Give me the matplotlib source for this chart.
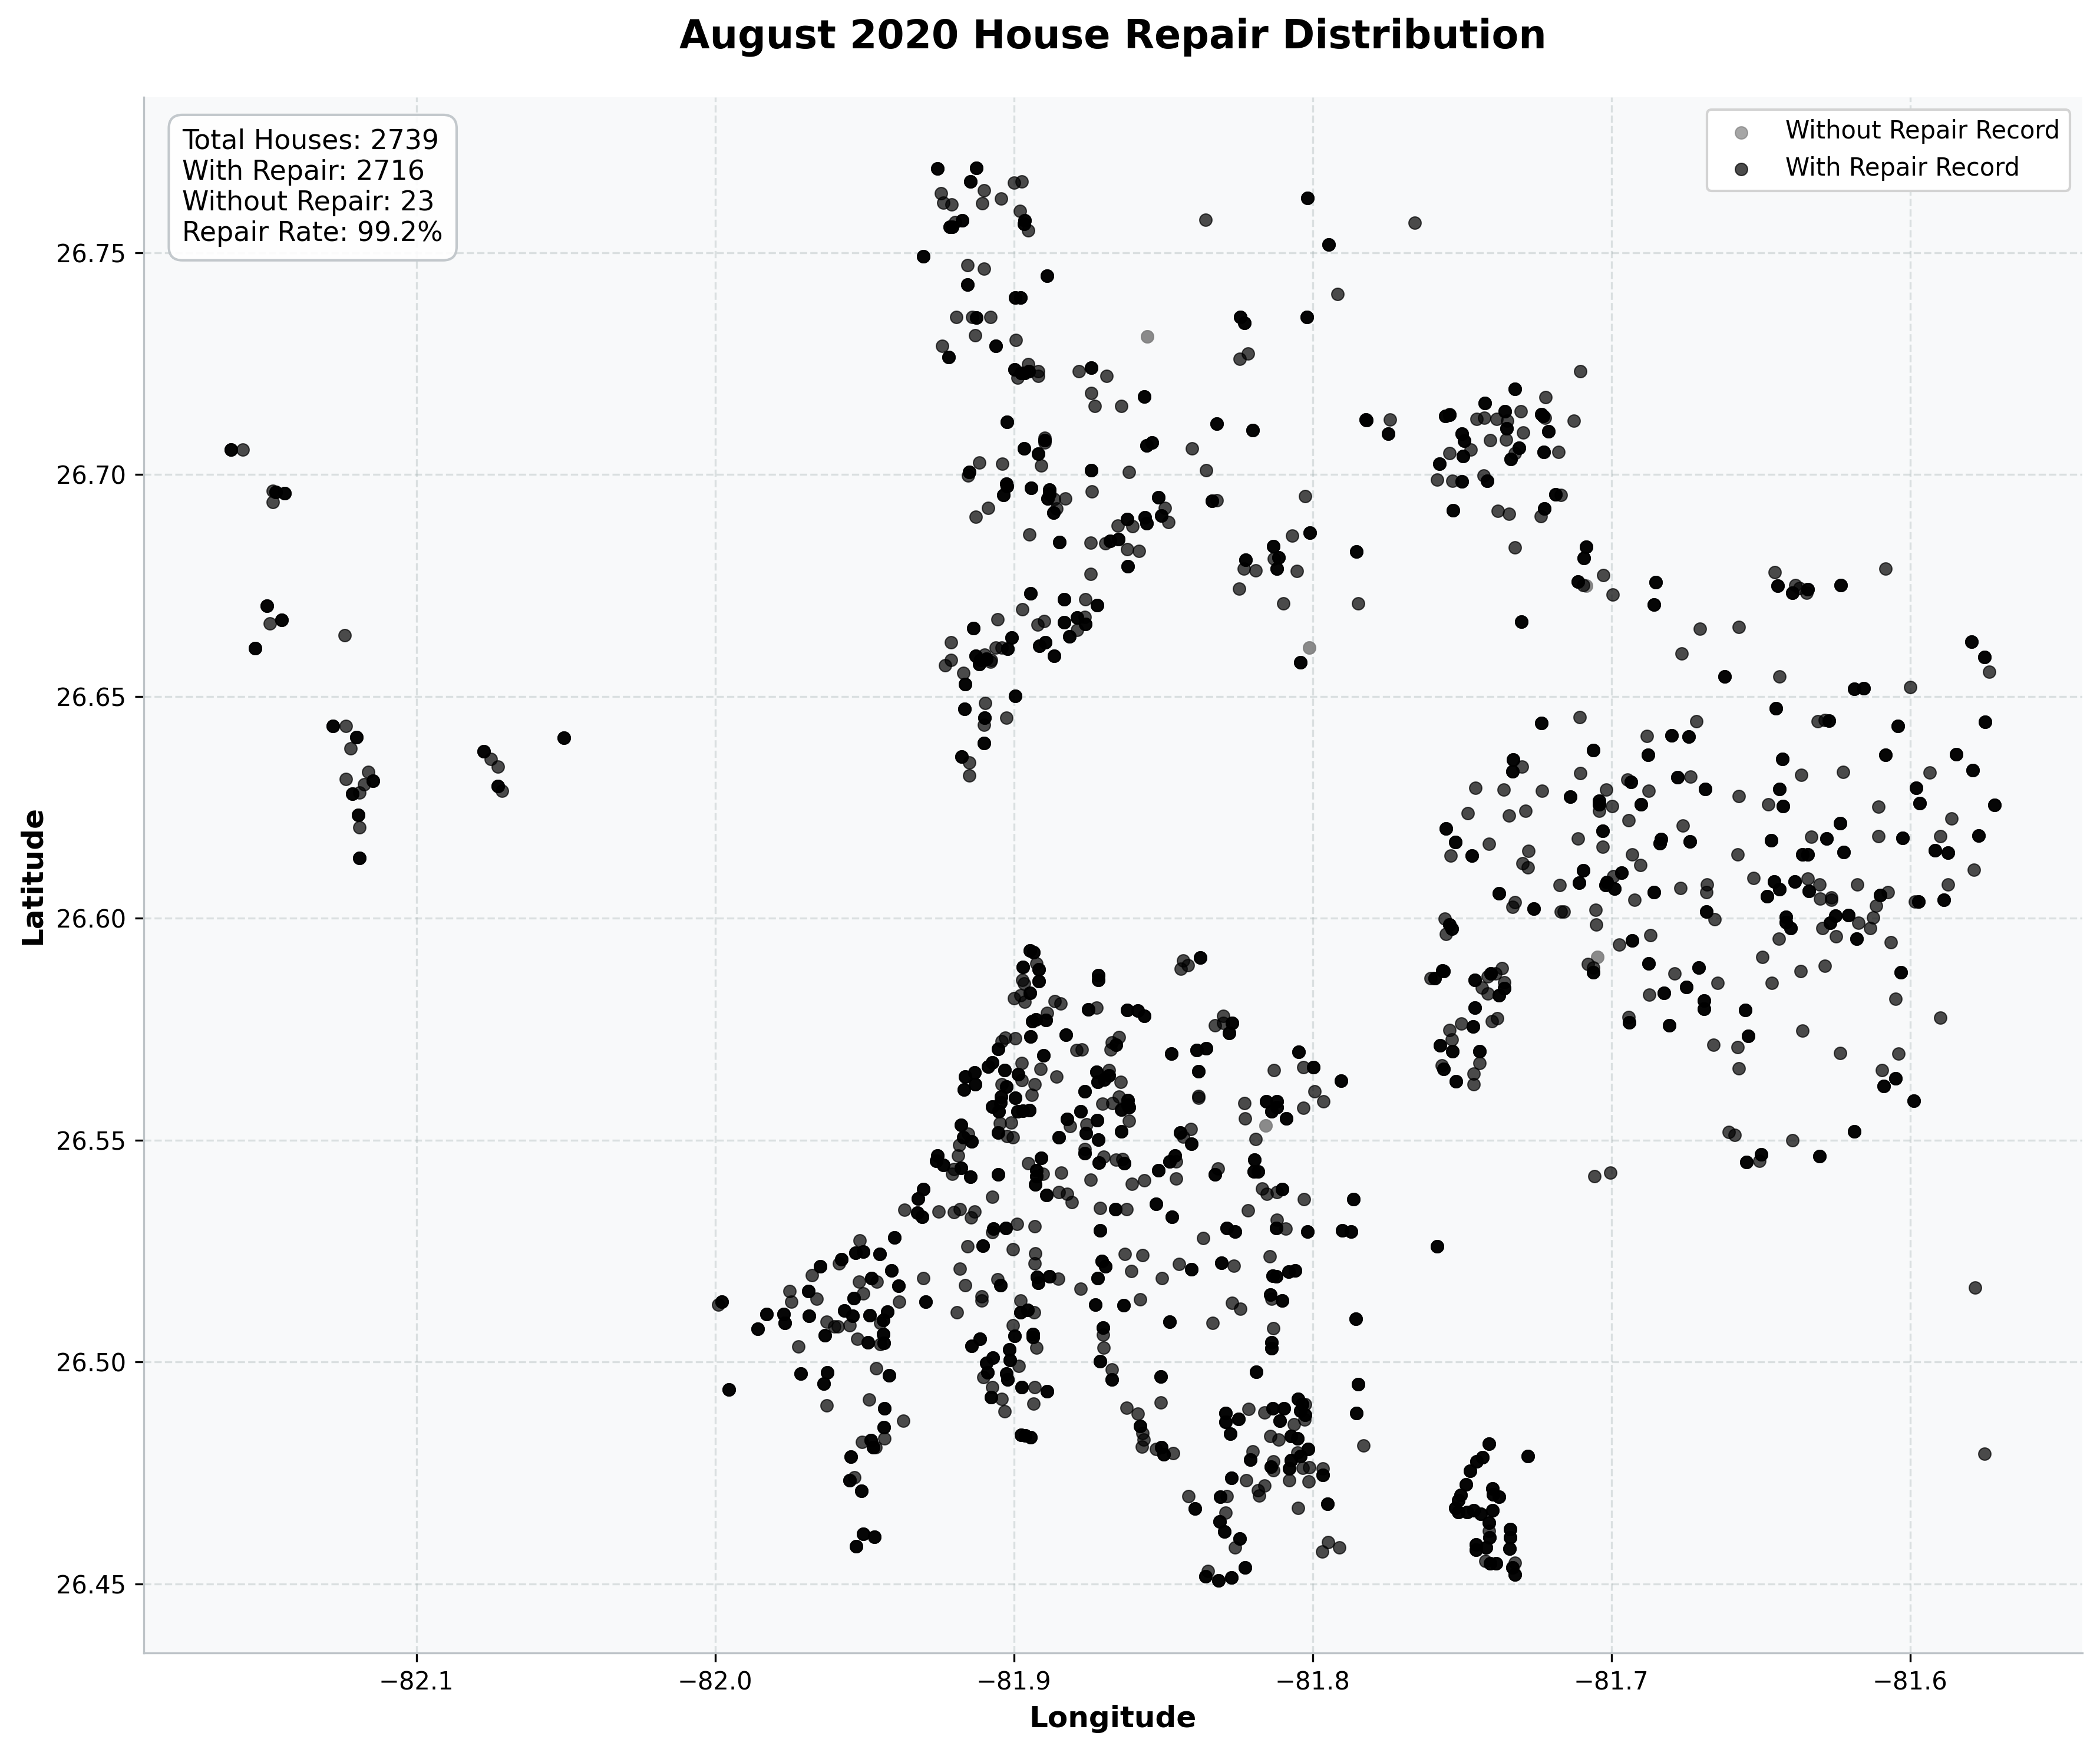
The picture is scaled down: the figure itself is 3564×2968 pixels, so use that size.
import numpy as np
import matplotlib
matplotlib.use('Agg')
import matplotlib.pyplot as plt

# houses without a repair record
without_repair = [(-81.8553,26.7311),(-81.8011,26.661),(-81.7047,26.5913),(-81.8158,26.5533),(-81.7085,26.6749)]

# houses with one repair record, read per area as (lon, lat)
west_one = [(-82.158,26.7056),(-82.148,26.6963),(-82.148,26.6937),(-82.149,26.6664),(-82.124,26.6637),(-82.1235,26.6433),
    (-82.122,26.6383),(-82.116,26.633),(-82.1236,26.6313),(-82.1174,26.6302),(-82.119,26.6283),(-82.119,26.6205),
    (-82.075,26.6359),(-82.0727,26.6342),(-82.0713,26.6287)]
west_many = [(-82.162,26.7056),(-82.147,26.696),(-82.144,26.6958),(-82.150,26.6704),(-82.145,26.6672),(-82.154,26.6608),
    (-82.128,26.6433),(-82.120,26.6408),(-82.1146,26.6309),(-82.1215,26.628),(-82.1195,26.6233),(-82.119,26.6136),
    (-82.0774,26.6376),(-82.0726,26.6297),(-82.0507,26.6407)]

north_one = [(-81.9,26.7658),(-81.8973,26.766),(-81.910,26.764),(-81.9243,26.7633),(-81.9236,26.7612),(-81.9209,26.7608),
    (-81.9106,26.7611),(-81.9042,26.7621),(-81.8979,26.7594),(-81.8952,26.755),(-81.9197,26.7568),(-81.9155,26.7472),
    (-81.91,26.7464),(-81.9192,26.7355),(-81.9139,26.7355),(-81.9079,26.7355),(-81.9129,26.7314),(-81.8993,26.7303),
    (-81.924,26.729),(-81.8953,26.7249),(-81.8918,26.7233),(-81.8918,26.7222),(-81.8987,26.7218),(-81.8782,26.7232),
    (-81.8689,26.7222),(-81.8742,26.7183),(-81.873,26.7154),(-81.864,26.7154),(-81.8358,26.7574),(-81.7917,26.7407),
    (-81.8216,26.7272),(-81.8245,26.726),(-81.8896,26.7083),(-81.8896,26.7072),(-81.8403,26.7059),(-81.9115,26.7026),
    (-81.9038,26.7024),(-81.8908,26.702),(-81.9153,26.6997),(-81.8615,26.7006),(-81.8357,26.7009),(-81.8865,26.6944),
    (-81.8827,26.6946),(-81.874,26.6962),(-81.8858,26.6923),(-81.9086,26.6924),(-81.9127,26.6904),(-81.8494,26.6925),
    (-81.8483,26.6893),(-81.8322,26.6941),(-81.8026,26.6951),(-81.8652,26.6884),(-81.8604,26.6883),(-81.8948,26.6864),
    (-81.8744,26.6846),(-81.8694,26.6845),(-81.8621,26.6831),(-81.8581,26.6827),(-81.8068,26.6862)]
north_many = [(-81.9255,26.7689),(-81.9125,26.769),(-81.9145,26.766),(-81.8964,26.7572),(-81.8966,26.7565),(-81.9172,26.7573),
    (-81.9214,26.7558),(-81.9207,26.7558),(-81.9303,26.7491),(-81.9155,26.7428),(-81.8888,26.7447),(-81.8996,26.7399),
    (-81.8978,26.7399),(-81.9125,26.7353),(-81.906,26.7289),(-81.9219,26.7264),(-81.8998,26.7237),(-81.8976,26.7228),
    (-81.8963,26.7228),(-81.8951,26.7233),(-81.8742,26.724),(-81.8563,26.7175),(-81.8017,26.7623),(-81.7946,26.7518),
    (-81.8242,26.7355),(-81.8229,26.7342),(-81.8019,26.7354),(-81.9024,26.7118),(-81.8321,26.7114),(-81.82,26.7099),
    (-81.7822,26.7123),(-81.8896,26.7077),(-81.8537,26.7072),(-81.8556,26.7065),(-81.8965,26.7059),(-81.8918,26.7046),
    (-81.9149,26.7006),(-81.8742,26.701),(-81.9026,26.6979),(-81.9023,26.6973),(-81.9034,26.6954),(-81.8942,26.6969),
    (-81.8882,26.6965),(-81.8882,26.6956),(-81.8887,26.6945),(-81.8868,26.6914),(-81.8516,26.6948),(-81.8506,26.6907),
    (-81.8336,26.694),(-81.8621,26.6899),(-81.8561,26.6903),(-81.8555,26.689),(-81.8847,26.6847),(-81.8678,26.685),
    (-81.865,26.6854),(-81.801,26.6868),(-81.8131,26.6838),(-81.7853,26.6826)]

north_low_one = [(-81.8744,26.6776),(-81.8129,26.681),(-81.823,26.6788),(-81.819,26.6783),(-81.8052,26.6782),(-81.8246,26.6742),
    (-81.8098,26.6709),(-81.7847,26.6709),(-81.8761,26.6718),(-81.8971,26.6696),(-81.8898,26.6669),(-81.8921,26.6662),
    (-81.8763,26.6679),(-81.8788,26.665),(-81.9054,26.6674),(-81.921,26.6621),(-81.9061,26.6609),(-81.9041,26.6609),
    (-81.9099,26.6594),(-81.9076,26.6582),(-81.9078,26.6578),(-81.921,26.6582),(-81.923,26.657),(-81.917,26.6553),
    (-81.9096,26.6485),(-81.91,26.6435),(-81.9026,26.6451),(-81.9149,26.6351),(-81.9149,26.6322)]
north_low_many = [(-81.8618,26.6793),(-81.8225,26.6808),(-81.8114,26.6813),(-81.812,26.6788),(-81.804,26.6577),(-81.8944,26.6732),
    (-81.8831,26.6719),(-81.8722,26.6705),(-81.8831,26.6667),(-81.8788,26.6677),(-81.876,26.6663),(-81.8814,26.6635),
    (-81.9135,26.6653),(-81.9007,26.6632),(-81.8894,26.6622),(-81.8914,26.6613),(-81.8866,26.6591),(-81.9022,26.6607),
    (-81.9127,26.6591),(-81.9112,26.6582),(-81.9092,26.6585),(-81.9115,26.6573),(-81.9164,26.6527),(-81.8995,26.6501),
    (-81.9166,26.6472),(-81.9098,26.6451),(-81.91,26.6394),(-81.9174,26.6364)]

ring_one = [(-81.7658,26.7567),(-81.7104,26.7233),(-81.722,26.7174),(-81.7542,26.7136),(-81.7452,26.7125),(-81.7425,26.7127),
    (-81.7384,26.7125),(-81.7349,26.7121),(-81.7303,26.7142),(-81.7222,26.7128),(-81.7125,26.7121),(-81.7295,26.7094),
    (-81.7406,26.7077),(-81.7353,26.7078),(-81.7472,26.7056),(-81.7323,26.7048),(-81.7178,26.7051),(-81.7542,26.7048),
    (-81.7584,26.6988),(-81.7533,26.6986),(-81.7427,26.6997),(-81.7169,26.6954),(-81.738,26.6918),(-81.7343,26.6911),
    (-81.7236,26.6906),(-81.7323,26.6835),(-81.7742,26.7123),(-81.7028,26.6773),(-81.7094,26.6751),(-81.6995,26.6729)]
ring_many = [(-81.7323,26.7193),(-81.7423,26.7161),(-81.7555,26.7132),(-81.7542,26.7134),(-81.7357,26.7142),(-81.7234,26.7136),
    (-81.7228,26.7132),(-81.7211,26.7097),(-81.7351,26.7104),(-81.7501,26.7092),(-81.7493,26.7076),(-81.731,26.706),
    (-81.7226,26.7051),(-81.7496,26.7041),(-81.7337,26.7035),(-81.7576,26.7024),(-81.7501,26.6984),(-81.7415,26.6986),
    (-81.7188,26.6955),(-81.753,26.6919),(-81.7224,26.6923),(-81.7821,26.7122),(-81.7748,26.7092),(-81.7084,26.6837),
    (-81.7092,26.6811),(-81.7112,26.6758),(-81.6851,26.6757),(-81.6857,26.6706)]

east_one = [(-81.6703,26.6652),(-81.6574,26.6656),(-81.6766,26.6596),(-81.6437,26.6545),(-81.7106,26.6453),(-81.6716,26.6443),
    (-81.6882,26.6411),(-81.7299,26.6342),(-81.7105,26.6327),(-81.6736,26.6319),(-81.7456,26.6294),(-81.7361,26.6289),
    (-81.7233,26.6287),(-81.7018,26.6289),(-81.6947,26.6312),(-81.6876,26.6287),(-81.6574,26.6275),(-81.6476,26.6256),
    (-81.7041,26.6242),(-81.6998,26.6252),(-81.748,26.6236),(-81.7342,26.6231),(-81.7288,26.6242),(-81.6943,26.622),
    (-81.6761,26.6209),(-81.7113,26.618),(-81.741,26.6168),(-81.7029,26.6161),(-81.7538,26.6141),(-81.7278,26.6152),
    (-81.6931,26.6144),(-81.6577,26.6144),(-81.6904,26.612),(-81.7298,26.6124),(-81.7279,26.6114),(-81.6993,26.6094),
    (-81.6524,26.609),(-81.668,26.6076),(-81.7173,26.6075),(-81.6768,26.6068),(-81.6683,26.6058),(-81.6923,26.6041),
    (-81.7324,26.6036),(-81.7332,26.6025),(-81.717,26.6014),(-81.7159,26.6014),(-81.7053,26.6019),(-81.6655,26.5998),
    (-81.7051,26.5985),(-81.7557,26.5999),(-81.7553,26.5964),(-81.687,26.5961),(-81.6975,26.594),(-81.6439,26.5954),
    (-81.6494,26.5913),(-81.7078,26.5896),(-81.7061,26.5888),(-81.6789,26.5875),(-81.6644,26.5854),(-81.6464,26.5854),
    (-81.6874,26.5828),(-81.6943,26.5777),(-81.6659,26.5715),(-81.6578,26.5709),(-81.6573,26.5662),(-81.6607,26.5518),
    (-81.6587,26.5512),(-81.6505,26.5453),(-81.7056,26.5419),(-81.7004,26.5427)]
east_many = [(-81.7302,26.6668),(-81.6622,26.6545),(-81.645,26.6473),(-81.7234,26.6439),(-81.6799,26.6412),(-81.6742,26.6409),
    (-81.6878,26.6368),(-81.706,26.6378),(-81.7329,26.6357),(-81.7331,26.6331),(-81.6779,26.6318),(-81.6428,26.6359),
    (-81.7138,26.6274),(-81.6935,26.6307),(-81.6686,26.6291),(-81.6438,26.6291),(-81.6426,26.6253),(-81.7041,26.6264),
    (-81.7041,26.6256),(-81.6902,26.6257),(-81.7553,26.6202),(-81.703,26.6197),(-81.6835,26.6178),(-81.6838,26.6169),
    (-81.6738,26.6173),(-81.6466,26.6176),(-81.7522,26.6171),(-81.7467,26.6141),(-81.7094,26.6107),(-81.6966,26.6102),
    (-81.6456,26.6083),(-81.7109,26.608),(-81.7016,26.6081),(-81.702,26.6075),(-81.699,26.6066),(-81.6858,26.6059),
    (-81.7377,26.6056),(-81.6437,26.6065),(-81.648,26.6049),(-81.7261,26.6021),(-81.6683,26.6015),(-81.6416,26.6003),
    (-81.6416,26.5991),(-81.7543,26.5986),(-81.7535,26.5976),(-81.6931,26.595),(-81.7061,26.5878),(-81.6876,26.5898),
    (-81.6708,26.5888),(-81.675,26.5845),(-81.6824,26.5831),(-81.6691,26.5814),(-81.6691,26.5795),(-81.6553,26.5793),
    (-81.6941,26.5765),(-81.6807,26.5758),(-81.6543,26.5735),(-81.6498,26.5467),(-81.6549,26.545)]

mid_gap_one = [(-81.7605,26.5864),(-81.7413,26.5868),(-81.7388,26.5875),(-81.7367,26.5887),(-81.7433,26.5844),(-81.7413,26.583),
    (-81.7359,26.5855),(-81.7503,26.5762),(-81.7382,26.5774),(-81.7401,26.5768),(-81.7542,26.5748),(-81.7535,26.5726),
    (-81.7441,26.5673),(-81.7568,26.5668),(-81.7462,26.5649),(-81.7462,26.5626)]
mid_gap_many = [(-81.7562,26.5881),(-81.7592,26.5864),(-81.7458,26.5861),(-81.7404,26.5875),(-81.7376,26.5826),(-81.7359,26.5842),
    (-81.7458,26.5798),(-81.7463,26.5756),(-81.7574,26.5713),(-81.7533,26.57),(-81.7441,26.57),(-81.7561,26.566),
    (-81.752,26.5632),(-81.7566,26.5882),(-81.7584,26.5261)]

far_east_one = [(-81.6454,26.6779),(-81.6385,26.6751),(-81.6371,26.6744),(-81.6346,26.6733),(-81.6082,26.6787),(-81.5735,26.6555),
    (-81.5999,26.652),(-81.6309,26.6443),(-81.6285,26.6446),(-81.6365,26.6323),(-81.6225,26.633),(-81.5934,26.6328),
    (-81.6107,26.6251),(-81.5861,26.6224),(-81.6332,26.6183),(-81.6107,26.6185),(-81.59,26.6184),(-81.5786,26.6109),
    (-81.6343,26.6089),(-81.6303,26.6076),(-81.6178,26.6076),(-81.6302,26.6044),(-81.6265,26.6046),(-81.6265,26.6041),
    (-81.6074,26.6059),(-81.6115,26.6028),(-81.5873,26.6076),(-81.5984,26.6037),(-81.6294,26.5977),(-81.6174,26.599),
    (-81.6125,26.6001),(-81.6134,26.5978),(-81.6249,26.5959),(-81.6064,26.5945),(-81.6285,26.5893),(-81.6367,26.5881),
    (-81.605,26.5818),(-81.5899,26.5776),(-81.636,26.5747),(-81.6234,26.5696),(-81.604,26.5695),(-81.6094,26.5657),
    (-81.6395,26.55),(-81.5782,26.5168),(-81.5752,26.4793)]
far_east_many = [(-81.6444,26.6749),(-81.6394,26.6733),(-81.6343,26.6741),(-81.6232,26.6751),(-81.5794,26.6623),(-81.5751,26.6589),
    (-81.6187,26.6516),(-81.6156,26.6518),(-81.6272,26.6445),(-81.6042,26.6433),(-81.5749,26.6442),(-81.6082,26.6368),
    (-81.5847,26.6369),(-81.579,26.6333),(-81.5981,26.6293),(-81.5968,26.6259),(-81.5717,26.6255),(-81.6235,26.6214),
    (-81.5772,26.6186),(-81.6279,26.6179),(-81.6025,26.6181),(-81.5917,26.6153),(-81.5873,26.6148),(-81.636,26.6144),
    (-81.6343,26.6143),(-81.6222,26.6149),(-81.6387,26.6083),(-81.634,26.6061),(-81.6101,26.6052),(-81.5887,26.6041),
    (-81.5972,26.6037),(-81.64,26.5978),(-81.6251,26.6005),(-81.6206,26.6007),(-81.6269,26.5989),(-81.618,26.5953),
    (-81.6032,26.5878),(-81.6049,26.5639),(-81.6089,26.5622),(-81.5989,26.5588),(-81.6188,26.5519),(-81.6303,26.5464)]

south_one = [(-81.8925,26.5898),(-81.8972,26.586),(-81.8965,26.5853),(-81.8977,26.5826),(-81.8999,26.5819),(-81.8964,26.5812),
    (-81.8433,26.5904),(-81.8441,26.5886),(-81.8417,26.5894),(-81.8863,26.5813),(-81.8844,26.5807),(-81.8724,26.5798),
    (-81.8889,26.5786),(-81.83,26.5779),(-81.83,26.5764),(-81.8326,26.5758),(-81.8996,26.5729),(-81.9029,26.573),
    (-81.904,26.5723),(-81.8649,26.5732),(-81.8673,26.572),(-81.8676,26.5704),(-81.879,26.5703),(-81.8772,26.5704),
    (-81.8974,26.5674),(-81.8911,26.566),(-81.8129,26.5657),(-81.8973,26.5635),(-81.8858,26.5643),(-81.8681,26.5658),
    (-81.8642,26.5631),(-81.893,26.5625),(-81.904,26.5626),(-81.894,26.5602),(-81.8649,26.5597),(-81.8703,26.5582),
    (-81.8671,26.5583),(-81.8383,26.5599),(-81.8383,26.5595),(-81.8228,26.5583),(-81.8227,26.5548),(-81.819,26.5502),
    (-81.8813,26.5531),(-81.8757,26.5535),(-81.8614,26.5543),(-81.9047,26.5538),(-81.901,26.5539),(-81.9153,26.5514),
    (-81.9023,26.5509),(-81.9004,26.5506),(-81.8407,26.5524),(-81.8433,26.5508),(-81.9183,26.5489),(-81.9187,26.5465),
    (-81.8762,26.548),(-81.92,26.5434),(-81.9206,26.5424),(-81.8952,26.5447),(-81.8903,26.5424),(-81.8842,26.5426),
    (-81.8744,26.5411),(-81.8699,26.5462),(-81.8658,26.5455),(-81.8636,26.5457),(-81.8605,26.5401),(-81.8563,26.5409),
    (-81.8458,26.5452),(-81.8458,26.5413),(-81.8317,26.5435),(-81.817,26.5391),(-81.8154,26.5378),(-81.8119,26.5383),
    (-81.8216,26.5342),(-81.9366,26.5343),(-81.9251,26.5339),(-81.92,26.5338),(-81.9181,26.5344),(-81.9131,26.5339),
    (-81.9144,26.5325),(-81.9073,26.5372),(-81.8849,26.5382),(-81.8822,26.5378),(-81.8806,26.536),(-81.8712,26.5347),
    (-81.8622,26.5344),(-81.8119,26.532),(-81.8366,26.5279),(-81.9073,26.5292),(-81.8989,26.5311),(-81.8931,26.5305),
    (-81.9155,26.5261),(-81.9004,26.5254),(-81.8928,26.5244),(-81.893,26.5222),(-81.8628,26.5243),(-81.8569,26.5241),
    (-81.8607,26.5204),(-81.8447,26.5221),(-81.8263,26.5217),(-81.8144,26.5238),(-81.918,26.521),(-81.9303,26.5188),
    (-81.8504,26.5189),(-81.8031,26.5664),(-81.7993,26.5609),(-81.7965,26.5587),(-81.8031,26.5573),(-81.803,26.5367),
    (-81.809,26.53)]
south_many = [(-81.8947,26.5927),(-81.8935,26.5923),(-81.8917,26.5884),(-81.8969,26.589),(-81.8917,26.5858),(-81.8947,26.5831),
    (-81.8718,26.5871),(-81.8718,26.586),(-81.8376,26.5911),(-81.875,26.5794),(-81.862,26.5793),(-81.8585,26.5792),
    (-81.8564,26.578),(-81.8938,26.5767),(-81.8926,26.5771),(-81.8893,26.577),(-81.827,26.5764),(-81.828,26.5741),
    (-81.8825,26.5737),(-81.8945,26.5733),(-81.8659,26.5715),(-81.8388,26.5703),(-81.8357,26.5706),(-81.8472,26.5695),
    (-81.9052,26.5705),(-81.89,26.5691),(-81.9073,26.5675),(-81.9087,26.5666),(-81.903,26.5658),(-81.8382,26.5655),
    (-81.9132,26.5652),(-81.9163,26.5643),(-81.9129,26.5625),(-81.9168,26.5614),(-81.8985,26.5648),(-81.8724,26.5654),
    (-81.8682,26.5646),(-81.8719,26.5631),(-81.8697,26.5636),(-81.9026,26.562),(-81.8763,26.5609),(-81.9043,26.5597),
    (-81.8996,26.5595),(-81.8619,26.559),(-81.8619,26.5579),(-81.864,26.5569),(-81.8614,26.5574),(-81.9073,26.5575),
    (-81.905,26.5565),(-81.9045,26.5584),(-81.8988,26.5565),(-81.897,26.5566),(-81.8948,26.5567),(-81.8777,26.5564),
    (-81.8156,26.5587),(-81.8119,26.5587),(-81.8119,26.5574),(-81.8137,26.5564),(-81.8088,26.5549),(-81.8822,26.5547),
    (-81.8721,26.5545),(-81.9176,26.5534),(-81.917,26.5506),(-81.9142,26.5497),(-81.9052,26.5517),(-81.8758,26.5515),
    (-81.8641,26.5519),(-81.885,26.5506),(-81.8717,26.5501),(-81.8444,26.5517),(-81.8405,26.5492),(-81.8762,26.547),
    (-81.9256,26.5465),(-81.926,26.5453),(-81.9236,26.5443),(-81.9177,26.5437),(-81.9145,26.5417),(-81.9052,26.5422),
    (-81.8908,26.5459),(-81.8925,26.5432),(-81.8925,26.5419),(-81.8929,26.54),(-81.8715,26.5449),(-81.8631,26.5447),
    (-81.8517,26.5432),(-81.8461,26.5465),(-81.8479,26.5452),(-81.8195,26.5456),(-81.8182,26.5429),(-81.8196,26.5429),
    (-81.8326,26.5422),(-81.8102,26.5389),(-81.9304,26.5389),(-81.932,26.5368),(-81.9322,26.5336),(-81.9307,26.5327),
    (-81.889,26.5376),(-81.866,26.5344),(-81.8524,26.5356),(-81.847,26.5327),(-81.8121,26.5302),(-81.8288,26.5301),
    (-81.826,26.5294),(-81.9069,26.53),(-81.9027,26.5302),(-81.8712,26.5296),(-81.9399,26.528),(-81.9103,26.5262),
    (-81.8706,26.5227),(-81.8693,26.5215),(-81.8406,26.5208),(-81.8305,26.5223),(-81.8134,26.5194),(-81.8081,26.5203),
    (-81.941,26.5206),(-81.8719,26.5189),(-81.8047,26.5699),(-81.7998,26.5664),(-81.7904,26.5633),(-81.7863,26.5366),
    (-81.8018,26.5293),(-81.7901,26.5296),(-81.7872,26.5293),(-81.8059,26.5206),(-81.8122,26.5192)]

southwest_one = [(-81.9517,26.5273),(-81.9585,26.5222),(-81.9676,26.5195),(-81.9458,26.518),(-81.9519,26.518),(-81.975,26.516),
    (-81.9504,26.5154),(-81.9745,26.5135),(-81.9661,26.5142),(-81.9383,26.5135),(-81.999,26.5129),(-81.9626,26.5091),
    (-81.9601,26.508),(-81.9589,26.508),(-81.955,26.5083),(-81.9447,26.5088),(-81.9524,26.5052),(-81.9447,26.504),
    (-81.9722,26.5034),(-81.946,26.4985),(-81.9626,26.4902),(-81.9484,26.4915),(-81.9371,26.4867),(-81.9433,26.4827),
    (-81.9508,26.4819),(-81.9462,26.4807),(-81.9534,26.474),(-81.919,26.5111),(-81.9107,26.5148),(-81.9107,26.5138),
    (-81.9054,26.5186),(-81.9164,26.5173),(-81.8977,26.5138),(-81.8933,26.5111),(-81.9003,26.5082),(-81.8924,26.5032),
    (-81.8983,26.4991),(-81.9101,26.4966),(-81.9073,26.4943),(-81.893,26.4943),(-81.9041,26.4916),(-81.903,26.4889),
    (-81.8934,26.4906),(-81.8776,26.5165),(-81.8578,26.5141),(-81.8702,26.5061),(-81.87,26.5032),(-81.8673,26.4983),
    (-81.8509,26.4909),(-81.8622,26.4897),(-81.8585,26.4883),(-81.8569,26.484),(-81.8565,26.4825),(-81.8572,26.4809),
    (-81.8524,26.4803),(-81.8466,26.4794),(-81.8851,26.5187)]
southwest_many = [(-81.9505,26.5249),(-81.953,26.5246),(-81.945,26.5243),(-81.9578,26.5231),(-81.9648,26.5215),(-81.9476,26.5188),
    (-81.9386,26.5171),(-81.9688,26.516),(-81.9535,26.5144),(-81.9296,26.5135),(-81.9978,26.5135),(-81.9827,26.5108),
    (-81.977,26.5107),(-81.9766,26.5088),(-81.9858,26.5074),(-81.9686,26.5104),(-81.9568,26.5116),(-81.954,26.5104),
    (-81.9482,26.5105),(-81.9423,26.5113),(-81.9438,26.5095),(-81.9632,26.506),(-81.9438,26.5063),(-81.9489,26.5044),
    (-81.9435,26.5042),(-81.9714,26.4973),(-81.9624,26.4976),(-81.9637,26.4951),(-81.9417,26.4969),(-81.9954,26.4937),
    (-81.9433,26.4895),(-81.9435,26.4852),(-81.9479,26.4824),(-81.947,26.4808),(-81.9546,26.4786),(-81.955,26.4733),
    (-81.951,26.4709),(-81.9505,26.4612),(-81.9467,26.4606),(-81.9527,26.4584),(-81.9044,26.5173),(-81.9113,26.5052),
    (-81.9142,26.5036),(-81.8977,26.5111),(-81.8955,26.5117),(-81.8997,26.5058),(-81.8937,26.5062),(-81.8937,26.5056),
    (-81.9016,26.5028),(-81.9013,26.5004),(-81.9071,26.5009),(-81.9093,26.4997),(-81.9088,26.4976),(-81.9026,26.4973),
    (-81.9022,26.496),(-81.8973,26.4943),(-81.8889,26.4933),(-81.9077,26.492),(-81.8975,26.4836),(-81.8962,26.4834),
    (-81.8944,26.483),(-81.8728,26.5129),(-81.8633,26.5127),(-81.8479,26.5091),(-81.8702,26.5077),(-81.8712,26.5002),
    (-81.8673,26.496),(-81.8509,26.4967),(-81.8577,26.4855),(-81.8507,26.4808),(-81.8499,26.4792),(-81.8881,26.5192),
    (-81.8922,26.5191),(-81.8919,26.5178)]

southeast_one = [(-81.8137,26.5142),(-81.827,26.5133),(-81.8242,26.512),(-81.8335,26.5088),(-81.8131,26.5076),(-81.7829,26.4812),
    (-81.8215,26.4894),(-81.8162,26.4886),(-81.8026,26.4905),(-81.8028,26.487),(-81.8062,26.4859),(-81.8142,26.4833),
    (-81.8113,26.4825),(-81.8051,26.4795),(-81.8034,26.4761),(-81.8011,26.4762),(-81.7966,26.476),(-81.8132,26.4775),
    (-81.8131,26.4756),(-81.82,26.4798),(-81.8223,26.4733),(-81.8078,26.4733),(-81.8014,26.473),(-81.8161,26.4721),
    (-81.8182,26.471),(-81.8179,26.4698),(-81.8288,26.4697),(-81.8415,26.4697),(-81.8291,26.466),(-81.8259,26.4582),
    (-81.8048,26.4671),(-81.7948,26.4594),(-81.791,26.4582),(-81.7968,26.4572),(-81.8351,26.4528),(-81.7409,26.4619),
    (-81.7421,26.4551),(-81.7323,26.4547)]
southeast_many = [(-81.8142,26.5151),(-81.8102,26.5138),(-81.8137,26.5044),(-81.8137,26.503),(-81.7855,26.5097),(-81.8188,26.4977),
    (-81.7847,26.495),(-81.7853,26.4884),(-81.8291,26.4884),(-81.8291,26.4864),(-81.8248,26.4871),(-81.8275,26.4838),
    (-81.8133,26.4895),(-81.8097,26.4895),(-81.8049,26.4917),(-81.8036,26.4905),(-81.8041,26.489),(-81.8026,26.4881),
    (-81.811,26.4867),(-81.8072,26.4833),(-81.8051,26.4828),(-81.8016,26.4804),(-81.8041,26.4787),(-81.8072,26.4778),
    (-81.8079,26.476),(-81.7966,26.4745),(-81.814,26.4763),(-81.8208,26.4779),(-81.8271,26.4738),(-81.831,26.4696),
    (-81.8394,26.467),(-81.8312,26.464),(-81.8295,26.4618),(-81.8244,26.4602),(-81.7951,26.468),(-81.8226,26.4536),
    (-81.8359,26.4517),(-81.8315,26.4507),(-81.8271,26.4514),(-81.741,26.4816),(-81.7279,26.4787),(-81.7431,26.4785),
    (-81.7451,26.4775),(-81.7473,26.4754),(-81.7487,26.4724),(-81.7504,26.47),(-81.7512,26.4688),(-81.7522,26.4671),
    (-81.7512,26.4662),(-81.7482,26.4662),(-81.7462,26.4665),(-81.7437,26.4658),(-81.7398,26.4666),(-81.7398,26.4714),
    (-81.7396,26.4701),(-81.7376,26.4696),(-81.741,26.4637),(-81.7407,26.4604),(-81.742,26.4582),(-81.7453,26.4589),
    (-81.7454,26.4576),(-81.7339,26.4623),(-81.7339,26.4604),(-81.734,26.4579),(-81.7406,26.4546),(-81.7386,26.4546),
    (-81.7331,26.4537),(-81.7323,26.4521)]

lon_ticks = [-82.1, -82.0, -81.9, -81.8, -81.7, -81.6]
lat_ticks = [26.45, 26.50, 26.55, 26.60, 26.65, 26.70, 26.75]
total_houses = 2739
with_count = 2716
without_count = 23
repair_rate = 99.2

one_record = np.array(west_one + north_one + north_low_one + ring_one + east_one + mid_gap_one
                      + far_east_one + south_one + southwest_one + southeast_one)
many_records = np.array(west_many + north_many + north_low_many + ring_many + east_many + mid_gap_many
                        + far_east_many + south_many + southwest_many + southeast_many)
# dark dots are several houses stacked on one spot
with_repair = np.vstack([one_record, np.repeat(many_records, 3, axis=0)])
without_repair = np.repeat(np.array(without_repair), 2, axis=0)

W, H = 3564, 2968
fig = plt.figure(figsize=(W / 300, H / 300), dpi=300)
ax = fig.add_axes([243.6 / W, (H - 2805) / H, (3534 - 243.6) / W, (2805 - 165) / H])
ax.set_facecolor('#f8f9fa')

ax.scatter(without_repair[:, 0], without_repair[:, 1], c='gray', s=25, alpha=0.7, linewidths=0.5,
           edgecolors='gray', label='Without Repair Record', zorder=2)
ax.scatter(with_repair[:, 0], with_repair[:, 1], c='black', s=25, alpha=0.7, linewidths=0.5,
           edgecolors='black', label='With Repair Record', zorder=3)

ax.set_xlim(-82.1913, -81.5424)
ax.set_ylim(26.4344, 26.785)
ax.set_xticks(lon_ticks)
ax.set_yticks(lat_ticks)
ax.tick_params(labelsize=10)
ax.grid(True, linestyle='--', alpha=0.3, color='#95a5a6', linewidth=0.8)
ax.set_axisbelow(True)
for side in ['top', 'right']:
    ax.spines[side].set_visible(False)
for side in ['left', 'bottom']:
    ax.spines[side].set_color('#bdc3c7')
    ax.spines[side].set_linewidth(0.8)

ax.set_xlabel('Longitude', fontsize=12, fontweight='bold')
ax.set_ylabel('Latitude', fontsize=12, fontweight='bold')
ax.set_title('August 2020 House Repair Distribution', fontsize=16, fontweight='bold', pad=20)

ax.legend(loc='upper right', fontsize=10, frameon=True, framealpha=1, edgecolor='lightgray', facecolor='white')

stats = (f'Total Houses: {total_houses}\nWith Repair: {with_count}\n'
         f'Without Repair: {without_count}\nRepair Rate: {repair_rate}%')
ax.text(0.02, 0.98, stats, transform=ax.transAxes, fontsize=11, va='top', ha='left', zorder=5,
        bbox=dict(boxstyle='round,pad=0.5', facecolor='white', edgecolor='#bdc3c7', alpha=0.9))

fig.savefig('out.png', dpi=300)
